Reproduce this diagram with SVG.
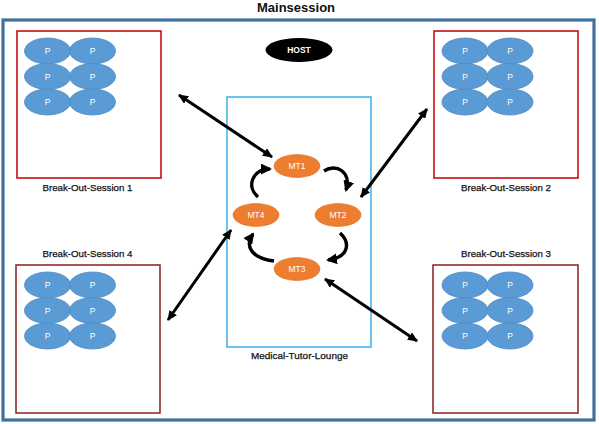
<svg xmlns="http://www.w3.org/2000/svg" width="599" height="424" viewBox="0 0 599 424">
<style>
.t{font-family:"Liberation Sans",Arial,sans-serif;}
.lbl{font-size:9.8px;fill:#111;text-anchor:middle;font-weight:normal;stroke:#111;stroke-width:0.25;}
.p{fill:#5B9BD5;stroke:#4F89C0;stroke-width:0.8;}
.pt{font-size:8.5px;fill:#fff;text-anchor:middle;}
.mt{fill:#ED7D31;stroke:#E07020;stroke-width:0.6;}
.mtt{font-size:8.5px;fill:#fff;text-anchor:middle;}
.boxT{fill:#fff;stroke:#C00000;stroke-width:1.5;}
.boxB{fill:#fff;stroke:#8B1E1E;stroke-width:1.5;}
.ln{stroke:#000;stroke-width:3;fill:none;}
.cv{stroke:#000;stroke-width:3.4;fill:none;}
</style>
<defs>
<marker id="ah" markerUnits="userSpaceOnUse" markerWidth="10" markerHeight="9" refX="9" refY="4.5" orient="auto-start-reverse">
<path d="M0,0 L10,4.5 L0,9 z" fill="#000"/>
</marker>
<marker id="ah2" markerUnits="userSpaceOnUse" markerWidth="11" markerHeight="11" refX="9" refY="5.5" orient="auto">
<path d="M0,0 L11,5.5 L0,11 z" fill="#000"/>
</marker>
<g id="pgrid">
<ellipse class="p" cx="0" cy="0" rx="23" ry="13"/><text class="t pt" x="0" y="3">P</text>
<ellipse class="p" cx="45" cy="0" rx="23" ry="13"/><text class="t pt" x="45" y="3">P</text>
<ellipse class="p" cx="0" cy="25.5" rx="23" ry="13"/><text class="t pt" x="0" y="28.5">P</text>
<ellipse class="p" cx="45" cy="25.5" rx="23" ry="13"/><text class="t pt" x="45" y="28.5">P</text>
<ellipse class="p" cx="0" cy="51" rx="23" ry="13"/><text class="t pt" x="0" y="54">P</text>
<ellipse class="p" cx="45" cy="51" rx="23" ry="13"/><text class="t pt" x="45" y="54">P</text>
</g>
</defs>
<rect width="599" height="424" fill="#fff"/>
<g id="mainsession">
<rect x="3" y="20" width="591" height="400" fill="none" stroke="#41719C" stroke-width="3.2"/>
<text class="t" x="296" y="12" font-size="13" font-weight="bold" text-anchor="middle" fill="#111">Mainsession</text>
</g>
<g id="host">
<ellipse cx="299" cy="50" rx="33.5" ry="12" fill="#000"/>
<text class="t" x="299" y="53" font-size="8.5" font-weight="bold" text-anchor="middle" fill="#fff">HOST</text>
</g>
<g id="bos1">
<rect class="boxT" x="17" y="31" width="144" height="147"/>
<use href="#pgrid" x="47.5" y="51"/>
<text class="t lbl" x="87.5" y="191" textLength="90" lengthAdjust="spacingAndGlyphs">Break-Out-Session 1</text>
</g>
<g id="bos2">
<rect class="boxT" x="434" y="31" width="144" height="147"/>
<use href="#pgrid" x="465" y="51"/>
<text class="t lbl" x="506" y="191" textLength="90" lengthAdjust="spacingAndGlyphs">Break-Out-Session 2</text>
</g>
<g id="bos3">
<rect class="boxB" x="433" y="265" width="145" height="148"/>
<use href="#pgrid" x="465" y="285"/>
<text class="t lbl" x="506" y="257" textLength="90" lengthAdjust="spacingAndGlyphs">Break-Out-Session 3</text>
</g>
<g id="bos4">
<rect class="boxB" x="16" y="265" width="144" height="148"/>
<use href="#pgrid" x="47.5" y="285"/>
<text class="t lbl" x="87.5" y="257" textLength="90" lengthAdjust="spacingAndGlyphs">Break-Out-Session 4</text>
</g>
<g id="lounge">
<rect x="227" y="97" width="144" height="250" fill="none" stroke="#3DB0EE" stroke-width="1.5"/>
<text class="t lbl" x="299.5" y="359" textLength="97" lengthAdjust="spacingAndGlyphs">Medical-Tutor-Lounge</text>
</g>
<g id="mt1"><ellipse class="mt" cx="297" cy="166" rx="23" ry="11.5"/><text class="t mtt" x="297" y="169">MT1</text></g>
<g id="mt2"><ellipse class="mt" cx="338" cy="215" rx="23" ry="11.5"/><text class="t mtt" x="338" y="218">MT2</text></g>
<g id="mt3"><ellipse class="mt" cx="297" cy="269" rx="23" ry="11.5"/><text class="t mtt" x="297" y="272">MT3</text></g>
<g id="mt4"><ellipse class="mt" cx="256" cy="215" rx="23" ry="11.5"/><text class="t mtt" x="256" y="218">MT4</text></g>
<g id="connectors">
<line class="ln" x1="179" y1="95" x2="272" y2="157" marker-start="url(#ah)" marker-end="url(#ah)"/>
<line class="ln" x1="361" y1="197" x2="427" y2="109" marker-start="url(#ah)" marker-end="url(#ah)"/>
<line class="ln" x1="168" y1="320" x2="231" y2="230" marker-start="url(#ah)" marker-end="url(#ah)"/>
<line class="ln" x1="325" y1="279" x2="417" y2="341" marker-start="url(#ah)" marker-end="url(#ah)"/>
<path class="cv" d="M324,171 C336,163 352,172 346,190" marker-end="url(#ah2)"/>
<path class="cv" d="M340,233 C350,242 350,257 328,260" marker-end="url(#ah2)"/>
<path class="cv" d="M274,261 C250,258 245,245 253,234" marker-end="url(#ah2)"/>
<path class="cv" d="M258,197 C246,187 252,169 270,169" marker-end="url(#ah2)"/>
</g>
</svg>
